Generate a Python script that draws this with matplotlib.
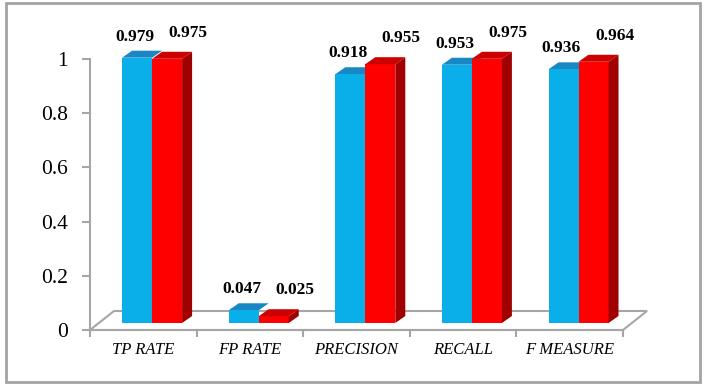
import matplotlib
matplotlib.use("Agg")
import matplotlib.pyplot as plt
from matplotlib.patches import Polygon, Rectangle
import numpy as np

categories = ["TP RATE", "FP RATE", "PRECISION", "RECALL", "F MEASURE"]
series_a = [0.979, 0.047, 0.918, 0.953, 0.936]
series_b = [0.975, 0.025, 0.955, 0.975, 0.964]
ytick_vals = [0, 0.2, 0.4, 0.6, 0.8, 1]
ytick_labels = ["0", "0.2", "0.4", "0.6", "0.8", "1"]

W, H = 706, 384
fig = plt.figure(figsize=(W / 100, H / 100), dpi=100)
fig.patch.set_facecolor("white")

# outer frame
fig.patches.append(Rectangle((6 / W, 2 / H), 694 / W, 379 / H, transform=fig.transFigure,
                             fill=False, edgecolor="#A3A3A3", lw=2))

L, R, B, T = 90, 623, 330, 59
ax = fig.add_axes([L / W, (H - B) / H, (R - L) / W, (B - T) / H])
n = len(categories)
ax.set_xlim(-0.5, n - 0.5)
ax.set_ylim(0, 1)
ax.patch.set_alpha(0)

pxx = n / (R - L)      # data units per pixel (x)
pxy = 1.0 / (B - T)    # data units per pixel (y)

grey = "#A6A6A6"
for s in ["top", "right"]:
    ax.spines[s].set_visible(False)
ax.spines["left"].set_color(grey)
ax.spines["left"].set_linewidth(1.5)
ax.spines["bottom"].set_color(grey)
ax.spines["bottom"].set_linewidth(1.5)

ax.set_yticks(ytick_vals)
ax.set_yticklabels(ytick_labels, fontfamily="Liberation Serif", fontsize=15.5)
ax.tick_params(axis="y", direction="out", length=6, width=1.5, color=grey, pad=10)

x = np.arange(n)
ax.set_xticks(x)
ax.set_xticklabels(categories, fontfamily="Liberation Serif", fontstyle="italic", fontsize=12)
ax.tick_params(axis="x", which="major", length=0, pad=9)
ax.set_xticks(np.arange(n + 1) - 0.5, minor=True)
ax.tick_params(axis="x", which="minor", direction="out", length=5, width=1.5, color=grey)

# floor
fdx, fdy = 24 * pxx, 19 * pxy
floor = Polygon([(-0.5, 0), (n - 0.5, 0), (n - 0.5 + fdx, fdy), (-0.5 + fdx, fdy)],
                closed=True, facecolor="white", edgecolor=grey, lw=1.5, clip_on=False, zorder=1)
ax.add_patch(floor)

# bars
base = 7 * pxy
bw = 30 * pxx
off_a = (122 - 143.2) * pxx
off_b = off_a + bw
ddx, ddy = 10 * pxx, 7 * pxy

blue_front, blue_top = "#0AAFEA", "#1888C4"
red_front, red_top, red_side = "#FF0000", "#CC0000", "#A00000"

for i in range(n):
    xa = x[i] + off_a
    xb = x[i] + off_b
    ta = base + series_a[i]
    tb = base + series_b[i]
    ax.bar(xa, series_a[i], width=bw, bottom=base, align="edge", color=blue_front,
           lw=0, zorder=3, clip_on=False)
    ax.add_patch(Polygon([(xa, ta), (xa + bw, ta), (xa + bw + ddx, ta + ddy), (xa + ddx, ta + ddy)],
                         closed=True, facecolor=blue_top, lw=0, zorder=2.9, clip_on=False))
    ax.bar(xb, series_b[i], width=bw, bottom=base, align="edge", color=red_front,
           lw=0, zorder=4, clip_on=False)
    ax.add_patch(Polygon([(xb, tb), (xb + bw, tb), (xb + bw + ddx, tb + ddy), (xb + ddx, tb + ddy)],
                         closed=True, facecolor=red_top, lw=0, zorder=4, clip_on=False))
    ax.add_patch(Polygon([(xb + bw, base), (xb + bw, tb), (xb + bw + ddx, tb + ddy), (xb + bw + ddx, base + ddy)],
                         closed=True, facecolor=red_side, lw=0, zorder=4, clip_on=False))
    ax.annotate(f"{series_a[i]:.3f}", (xa + bw / 2, ta), xytext=(-2, 21), textcoords="offset pixels",
                ha="center", va="center", fontfamily="Liberation Serif", fontweight="bold",
                fontsize=12.5, zorder=6, annotation_clip=False)
    ax.annotate(f"{series_b[i]:.3f}", (xb + bw / 2, tb), xytext=(21, 26), textcoords="offset pixels",
                ha="center", va="center", fontfamily="Liberation Serif", fontweight="bold",
                fontsize=12.5, zorder=6, annotation_clip=False)

fig.savefig("out.png", dpi=100)
